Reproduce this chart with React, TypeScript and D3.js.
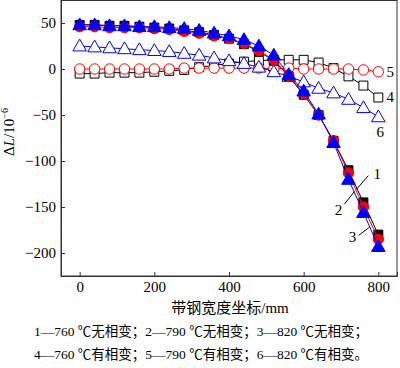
import { useEffect, useRef } from "react";
import { axisBottom, axisLeft, line, scaleLinear, select, symbol, symbolSquare, symbolCircle, symbolTriangle } from "d3";

const widths = [0, 40, 80, 120, 160, 200, 240, 280, 320, 360, 400, 440, 480, 520, 560, 600, 640, 680, 720, 760, 800];

const s1 = [48, 48, 47, 47, 46, 45, 44, 42, 40, 37, 33, 27, 19, 9, -8, -28, -50, -78, -110, -145, -180];
const s2 = [46, 46, 45, 45, 45, 44, 43, 41, 39, 36, 33, 28, 20, 10, -7, -27, -50, -78, -113, -150, -185];
const s3 = [48, 48, 47, 47, 46, 46, 45, 44, 42, 39, 36, 32, 25, 15, -6, -24, -49, -80, -120, -156, -193];
const s4 = [-5, -5, -4, -4, -4, -3, -2, -1, 2, 4, 6, 8, 9, 10, 10, 10, 7, 1, -8, -18, -31];
const s5 = [0, 0, 0, 0, 0, 0, 0, 1, 1, 1, 1, 1, 1, 0, 1, 0, 0, 0, 0, -1, -3];
const s6 = [25, 24, 23, 22, 21, 20, 19, 17, 15, 12, 9, 6, 2, -3, -8, -14, -21, -26, -33, -42, -52];

const xTicks = [0, 200, 400, 600, 800];
const yTicks = [50, 0, -50, -100, -150, -200];

const captions = [
  "1—760 ℃无相变；2—790 ℃无相变；3—820 ℃无相变；",
  "4—760 ℃有相变；5—790 ℃有相变；6—820 ℃有相变。",
];

const series = [
  { name: "4", values: s4, color: "#000", shape: symbolSquare, size: 80, filled: false },
  { name: "5", values: s5, color: "#ff0000", shape: symbolCircle, size: 85, filled: false },
  { name: "6", values: s6, color: "#0000ff", shape: symbolTriangle, size: 80, filled: false },
  { name: "1", values: s1, color: "#000", shape: symbolSquare, size: 80, filled: true },
  { name: "2", values: s2, color: "#ff0000", shape: symbolCircle, size: 85, filled: true },
  { name: "3", values: s3, color: "#0000ff", shape: symbolTriangle, size: 80, filled: true },
];

// curve labels, in data units: [label, x, y]
const labels: Array<[string, number, number]> = [
  ["5", 832, -3], ["4", 832, -30], ["6", 805, -69],
  ["1", 797, -114], ["2", 693, -153], ["3", 731, -183],
];
const leaders: Array<[number, number, number, number]> = [
  [773, -116, 741, -131],
  [709, -147, 736, -133],
  [747, -181, 776, -172],
];

const serif = "'Liberation Serif', 'Times New Roman', 'Noto Sans CJK SC', serif";

export default function App() {
  const ref = useRef<SVGSVGElement>(null);

  useEffect(() => {
    const svg = select(ref.current);
    svg.selectAll("*").remove();

    const x = scaleLinear().domain([-50, 850]).range([61, 397]);
    const y = scaleLinear().domain([-225, 75]).range([276, 0]);

    const g = svg.append("g");

    series.forEach(s => {
      const pts = widths.map((w, i) => [w, s.values[i]] as [number, number]);
      g.append("path")
        .attr("d", line().x(d => x(d[0])).y(d => y(d[1]))(pts))
        .attr("fill", "none")
        .attr("stroke", s.color)
        .attr("stroke-width", 1);
      g.selectAll(null)
        .data(pts)
        .enter()
        .append("path")
        .attr("d", symbol().type(s.shape).size(s.size)() as string)
        .attr("transform", d => `translate(${x(d[0])},${y(d[1]) + (s.shape === symbolTriangle ? 1 : 0)})`)
        .attr("fill", s.filled ? s.color : "#fff")
        .attr("stroke", s.color)
        .attr("stroke-width", 1);
    });

    leaders.forEach(l => {
      g.append("line")
        .attr("x1", x(l[0])).attr("y1", y(l[1]))
        .attr("x2", x(l[2])).attr("y2", y(l[3]))
        .attr("stroke", "#000").attr("stroke-width", 1);
    });

    g.selectAll(null)
      .data(labels)
      .enter()
      .append("text")
      .attr("x", d => x(d[1]))
      .attr("y", d => y(d[2]))
      .attr("text-anchor", "middle")
      .attr("dominant-baseline", "central")
      .style("font-family", serif)
      .style("font-size", "15px")
      .text(d => d[0]);

    // frame
    svg.append("rect")
      .attr("x", 61).attr("y", 0.5)
      .attr("width", 336).attr("height", 275.5)
      .attr("fill", "none").attr("stroke", "#333").attr("stroke-width", 1);

    const xa = svg.append("g")
      .attr("transform", `translate(0,276)`)
      .call(axisBottom(x).tickValues(xTicks).tickSize(-4).tickPadding(5));
    const ya = svg.append("g")
      .attr("transform", `translate(61,0)`)
      .call(axisLeft(y).tickValues(yTicks).tickSize(-4).tickPadding(5));

    [xa, ya].forEach(a => {
      a.select(".domain").attr("stroke", "#333");
      a.selectAll(".tick line").attr("stroke", "#333");
      a.selectAll(".tick text")
        .attr("fill", "#000")
        .style("font-family", serif)
        .style("font-size", "15px");
    });

    svg.append("text")
      .attr("x", 230).attr("y", 308)
      .attr("text-anchor", "middle")
      .attr("dominant-baseline", "central")
      .style("font-family", serif)
      .style("font-size", "15px")
      .text("带钢宽度坐标/mm");

    const yt = svg.append("text")
      .attr("transform", "translate(14,132) rotate(-90)")
      .attr("text-anchor", "middle")
      .style("font-family", serif)
      .style("font-size", "15px");
    yt.append("tspan").text("Δ");
    yt.append("tspan").style("font-style", "italic").text("L");
    yt.append("tspan").text("/10");
    yt.append("tspan").attr("dy", -6).style("font-size", "10px").text("−6");

    svg.selectAll(null)
      .data(captions)
      .enter()
      .append("text")
      .attr("x", 201)
      .attr("y", (_, i) => 331 + i * 23)
      .attr("text-anchor", "middle")
      .attr("dominant-baseline", "central")
      .style("font-family", serif)
      .style("font-size", "13.5px")
      .text(d => d);
  }, []);

  return (
    <svg ref={ref} width={400} height={368}
      style={{ position: "absolute", left: 0, top: 0, background: "#fff" }} />
  );
}
